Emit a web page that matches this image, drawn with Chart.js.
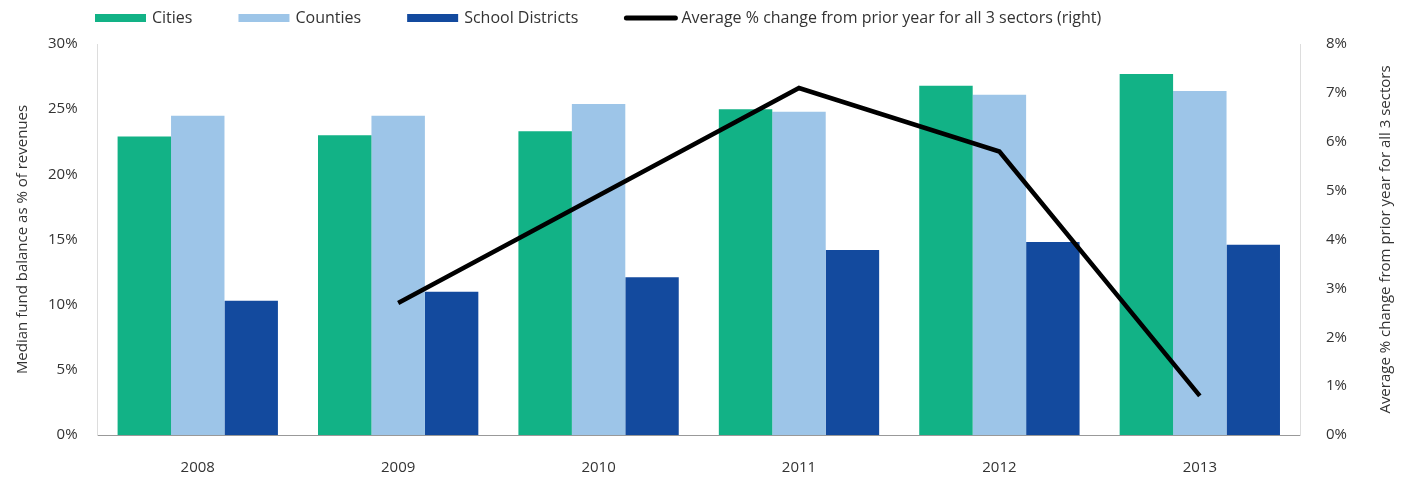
<!DOCTYPE html>
<html>
<head>
<meta charset="utf-8">
<script src="https://cdn.jsdelivr.net/npm/chart.js@4"></script>
<style>
  html, body { margin: 0; padding: 0; background: #fff; }
  #wrap { width: 1405px; height: 481px; }
</style>
</head>
<body>
<div id="wrap"><canvas id="chart"></canvas></div>
<script>
const years = ["2008", "2009", "2010", "2011", "2012", "2013"];
const cities = [22.9, 23.0, 23.3, 25.0, 26.8, 27.7];
const counties = [24.5, 24.5, 25.4, 24.8, 26.1, 26.4];
const schoolDistricts = [10.3, 11.0, 12.1, 14.2, 14.8, 14.6];
const avgChange = [null, 2.7, 4.9, 7.1, 5.8, 0.8];

const FONT = "'Open Sans', 'Noto Sans', sans-serif";
const rightTitle = "Average % change from prior year for all 3 sectors";

// legend drawn by hand so the items can sit left of centre with wide gaps
const topLegend = {
  id: "topLegend",
  afterDraw(chart) {
    const c = chart.ctx;
    const order = [1, 2, 3, 0];
    let x = 95;
    const y = 18;
    c.save();
    c.font = "16px " + FONT;
    c.textBaseline = "middle";
    order.forEach((i) => {
      const ds = chart.data.datasets[i];
      if (ds.type === "line") {
        c.strokeStyle = ds.borderColor;
        c.lineWidth = 5;
        c.lineCap = "round";
        c.beginPath();
        c.moveTo(x + 2, y);
        c.lineTo(x + 51, y);
        c.stroke();
      } else {
        c.fillStyle = ds.backgroundColor;
        c.fillRect(x, y - 4, 51, 8);
      }
      x += 57;
      c.fillStyle = "#333";
      c.fillText(ds.label, x, y);
      x += c.measureText(ds.label).width + 46;
    });
    c.restore();
  },
};

// right axis title reads bottom-to-top like the left one
const rightAxisTitle = {
  id: "rightAxisTitle",
  afterDraw(chart) {
    const s = chart.scales.y2;
    const c = chart.ctx;
    c.save();
    c.font = "15px " + FONT;
    c.fillStyle = "#333";
    c.textAlign = "center";
    c.textBaseline = "middle";
    c.translate(s.right - 5, (chart.chartArea.top + chart.chartArea.bottom) / 2);
    c.rotate(-Math.PI / 2);
    c.fillText(rightTitle, 0, 0);
    c.restore();
  },
};

const ctx = document.getElementById("chart").getContext("2d");
Chart.defaults.font.family = FONT;
Chart.defaults.font.size = 15;
Chart.defaults.color = "#333";

new Chart(ctx, {
  type: "bar",
  data: {
    labels: years,
    datasets: [
      {
        type: "line",
        label: "Average % change from prior year for all 3 sectors (right)",
        data: avgChange,
        yAxisID: "y2",
        borderColor: "#000",
        backgroundColor: "#000",
        borderWidth: 4.5,
        pointRadius: 0,
        tension: 0,
        order: 0,
      },
      { label: "Cities", data: cities, backgroundColor: "#12b286", yAxisID: "y", order: 1 },
      { label: "Counties", data: counties, backgroundColor: "#9dc5e8", yAxisID: "y", order: 1 },
      { label: "School Districts", data: schoolDistricts, backgroundColor: "#134a9e", yAxisID: "y", order: 1 },
    ],
  },
  options: {
    responsive: true,
    maintainAspectRatio: false,
    animation: false,
    layout: { padding: { left: 10, right: 14, top: 44, bottom: -20 } },
    datasets: { bar: { categoryPercentage: 0.8, barPercentage: 1.0 } },
    plugins: {
      legend: { display: false },
      tooltip: { enabled: false },
    },
    scales: {
      x: {
        grid: { display: false, drawTicks: false },
        border: { color: "#999" },
        ticks: { padding: 24 },
      },
      y: {
        position: "left",
        min: 0,
        max: 30,
        grid: { display: false },
        border: { color: "#ddd" },
        ticks: { stepSize: 5, callback: (v) => v + "%", padding: 12 },
        title: { display: true, text: "Median fund balance as % of revenues" },
      },
      y2: {
        position: "right",
        min: 0,
        max: 8,
        grid: { display: false },
        border: { color: "#ddd" },
        ticks: { stepSize: 1, callback: (v) => v + "%", padding: 18 },
        title: { display: true, text: rightTitle, color: "rgba(0,0,0,0)" },
      },
    },
  },
  plugins: [topLegend, rightAxisTitle],
});
</script>
</body>
</html>
